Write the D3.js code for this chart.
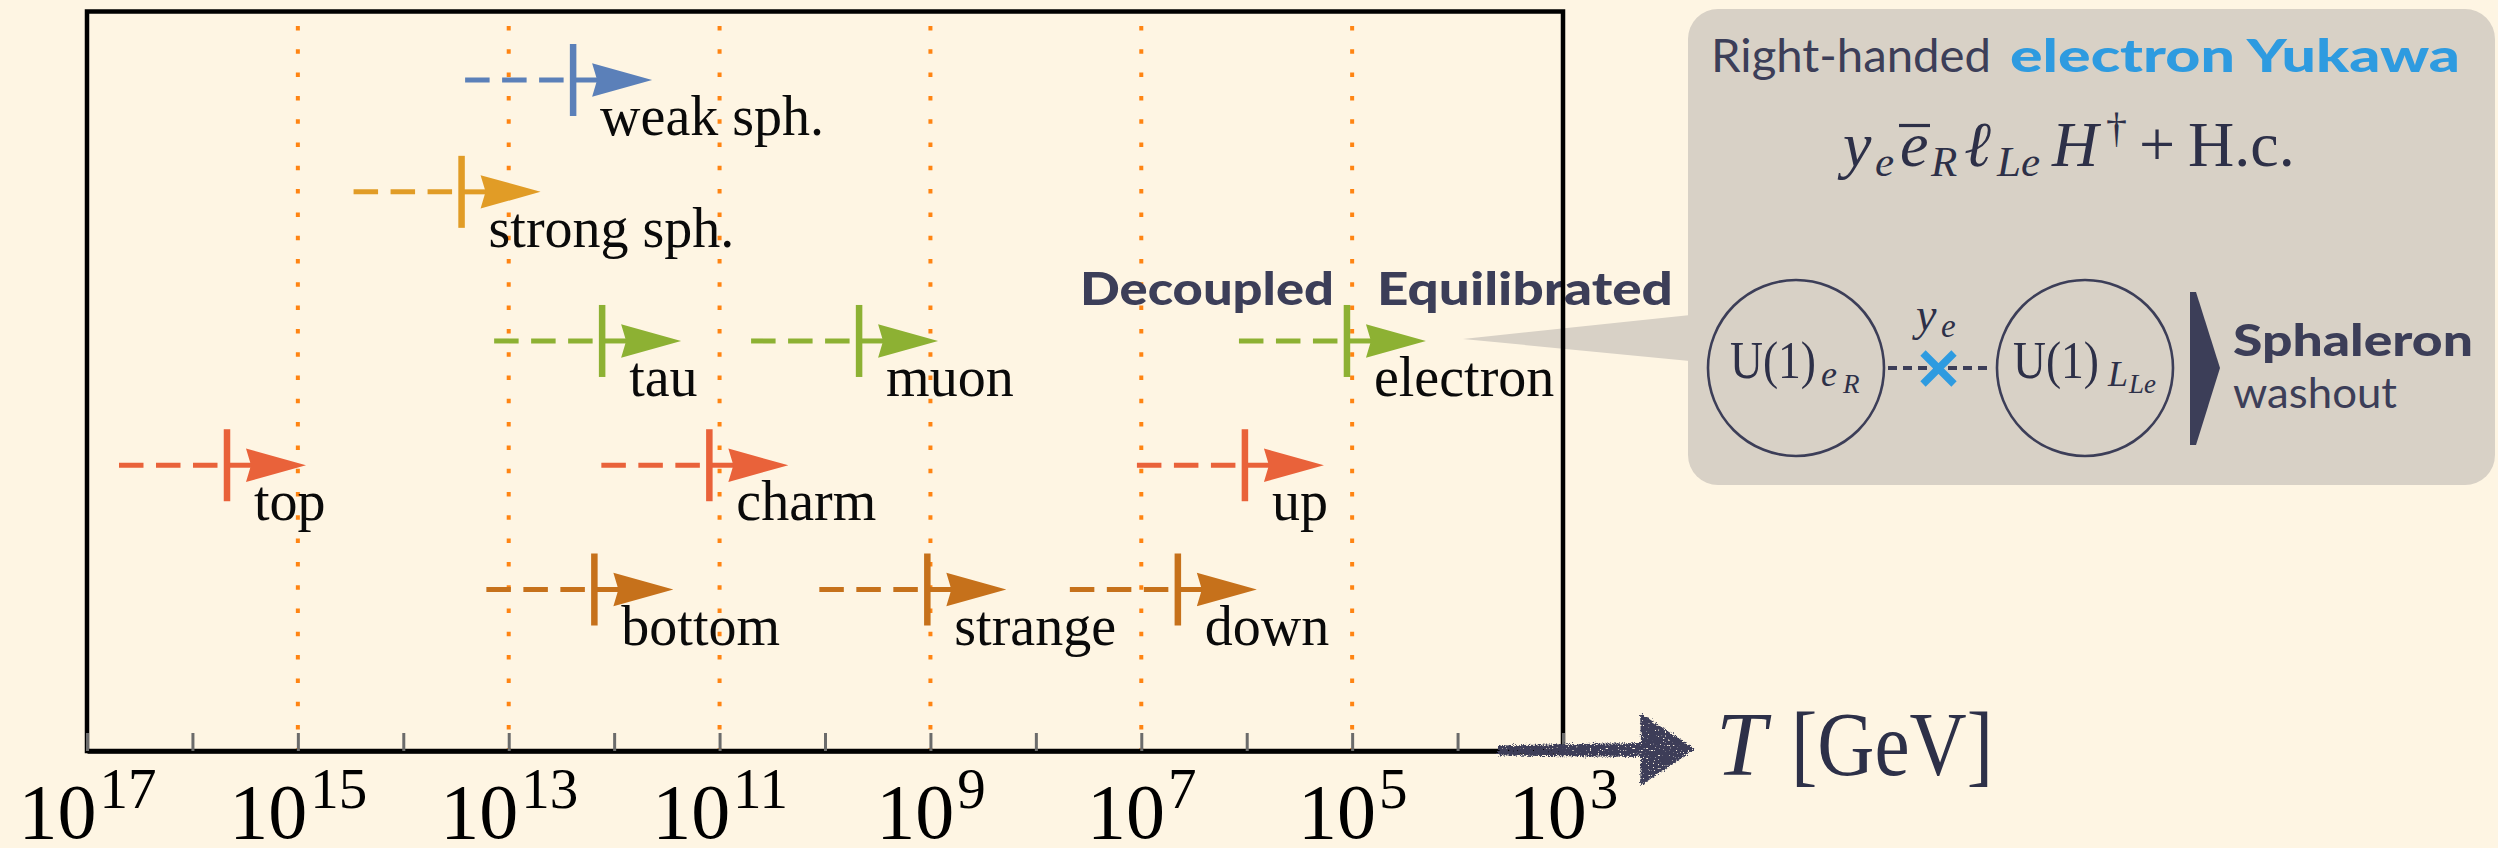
<!DOCTYPE html>
<html>
<head>
<meta charset="utf-8">
<script src="https://cdn.jsdelivr.net/npm/d3@7"></script>
<style>
  html, body { margin: 0; padding: 0; background: #fef5e3; }
  svg { display: block; }
</style>
</head>
<body>
<svg id="chart" width="2498" height="848"></svg>
<script>
// Temperature (GeV) at which each interaction comes into chemical equilibrium
const processes    = ["weak sph.", "strong sph.", "tau", "muon", "electron", "top", "charm", "up", "bottom", "strange", "down"];
const temperatures = [2.45e12, 2.8e13, 1.3e12, 4.75e9, 1.12e5, 4.7e15, 1.25e11, 1.04e6, 1.54e12, 1.07e9, 4.5e6];
const rowLevels    = [4.1, 3.2, 2, 2, 2, 1, 1, 1, 0, 0, 0];
const groups       = ["weak", "strong", "lepton", "lepton", "lepton", "upQuark", "upQuark", "upQuark", "downQuark", "downQuark", "downQuark"];

const groupNames  = ["weak", "strong", "lepton", "upQuark", "downQuark"];
const groupColors = ["#5b80b9", "#e19c26", "#8db133", "#e9623a", "#c6711b"];

// Axis decades
const tickExponents  = [17, 16, 15, 14, 13, 12, 11, 10, 9, 8, 7, 6, 5, 4, 3];
const labelExponents = [17, 15, 13, 11, 9, 7, 5, 3];
const guideExponents = [15, 13, 11, 9, 7, 5];

const NAVY = "#3c3e58";
const INK = "#2d3048";
const PANEL = "#d8d1c6";
const SANS = "Lato, 'Open Sans', sans-serif";
const serif = "'Liberation Serif', 'Times New Roman', serif";

const svg = d3.select("#chart");
const W = 2498, H = 848;
const plot = { left: 87, right: 1563, top: 11.5, bottom: 751 };

svg.append("rect").attr("width", W).attr("height", H).attr("fill", "#fef5e3");

const x = d3.scaleLog().domain([1e17, 1e3]).range([plot.left, plot.right]);
const y = d3.scaleLinear().domain([0, 4.1]).range([589.5, 80]);
const color = d3.scaleOrdinal().domain(groupNames).range(groupColors);

const rows = processes.map((name, i) => ({
  name, T: temperatures[i], level: rowLevels[i], group: groups[i]
}));

// Rough brush texture for the temperature arrow
const defs = svg.append("defs");
const rough = defs.append("filter").attr("id", "rough")
  .attr("x", "-10%").attr("y", "-40%").attr("width", "120%").attr("height", "180%");
rough.append("feTurbulence").attr("type", "fractalNoise").attr("baseFrequency", 0.9)
  .attr("numOctaves", 2).attr("seed", 3).attr("result", "noise");
rough.append("feDisplacementMap").attr("in", "SourceGraphic").attr("in2", "noise")
  .attr("scale", 6).attr("xChannelSelector", "R").attr("yChannelSelector", "G").attr("result", "disp");
rough.append("feTurbulence").attr("type", "fractalNoise").attr("baseFrequency", 0.6)
  .attr("numOctaves", 1).attr("seed", 11).attr("result", "n2");
rough.append("feColorMatrix").attr("in", "n2").attr("type", "matrix")
  .attr("values", "0 0 0 0 0  0 0 0 0 0  0 0 0 0 0  14 0 0 0 -3.8").attr("result", "mask");
rough.append("feComposite").attr("in", "disp").attr("in2", "mask").attr("operator", "in");

// Dotted guides at every second decade
svg.append("g").selectAll("line").data(guideExponents).join("line")
  .attr("x1", d => x(Math.pow(10, d))).attr("x2", d => x(Math.pow(10, d)))
  .attr("y1", 26).attr("y2", plot.bottom)
  .attr("stroke", "#ff8412").attr("stroke-width", 4)
  .attr("stroke-dasharray", "4.5,18.8");

// Equilibration arrows
const DASH_LEN = 108, HEAD_BACK = 19, HEAD_TIP = 79, HEAD_HALF = 16.7, BAR_HALF = 36;
const arrows = svg.append("g").selectAll("g").data(rows).join("g")
  .attr("transform", d => `translate(${x(d.T)},${y(d.level)})`);

arrows.append("line")
  .attr("x1", -DASH_LEN).attr("x2", 0).attr("y1", 0).attr("y2", 0)
  .attr("stroke", d => color(d.group)).attr("stroke-width", 5)
  .attr("stroke-dasharray", "24.5,12.5");
arrows.append("line")
  .attr("x1", 0).attr("x2", HEAD_BACK + 6).attr("y1", 0).attr("y2", 0)
  .attr("stroke", d => color(d.group)).attr("stroke-width", 5);
arrows.append("rect")
  .attr("x", -3.25).attr("y", -BAR_HALF).attr("width", 6.5).attr("height", 2 * BAR_HALF)
  .attr("fill", d => color(d.group));
arrows.append("path")
  .attr("d", `M${HEAD_BACK},${-HEAD_HALF} L${HEAD_TIP},0 L${HEAD_BACK},${HEAD_HALF} L${HEAD_BACK + 5},0 Z`)
  .attr("fill", d => color(d.group));
arrows.append("text")
  .attr("x", 27).attr("y", 55)
  .attr("font-family", serif)
  .attr("font-size", 56).attr("fill", "#0a0a0a")
  .text(d => d.name);

// Decoupled / Equilibrated markers around the electron threshold
const eX = x(rows.find(d => d.name === "electron").T);
svg.append("text").attr("x", eX - 13).attr("y", 305).attr("text-anchor", "end")
  .attr("font-family", SANS).attr("font-weight", 900)
  .attr("font-size", 45).attr("fill", NAVY)
  .attr("textLength", 254).attr("lengthAdjust", "spacingAndGlyphs")
  .text("Decoupled");
svg.append("text").attr("x", eX + 30).attr("y", 305)
  .attr("font-family", SANS).attr("font-weight", 900)
  .attr("font-size", 45).attr("fill", NAVY)
  .attr("textLength", 296).attr("lengthAdjust", "spacingAndGlyphs")
  .text("Equilibrated");

// Callout panel
const panel = svg.append("g");
panel.append("polygon")
  .attr("points", `${eX + 116},339 1700,314 1700,362`)
  .attr("fill", PANEL);
panel.append("rect").attr("x", 1688).attr("y", 9).attr("width", 807).attr("height", 476)
  .attr("rx", 30).attr("fill", PANEL);

const title = panel.append("g").attr("font-family", SANS).attr("font-size", 46);
title.append("text").attr("x", 1711).attr("y", 72).attr("fill", NAVY)
  .attr("textLength", 280).attr("lengthAdjust", "spacingAndGlyphs").text("Right-handed");
title.append("text").attr("x", 2010).attr("y", 72).attr("fill", "#2e9be0").attr("font-weight", 900)
  .attr("textLength", 450).attr("lengthAdjust", "spacingAndGlyphs").text("electron Yukawa");

// Operator y_e ē_R ℓ_Le H† + H.c.
const formula = [
  { t: "y",    x: 1843, y: 166, s: 64, it: true },
  { t: "e",    x: 1875, y: 176, s: 43, it: true },
  { t: "e",    x: 1900, y: 166, s: 64, it: true },
  { t: "R",    x: 1931, y: 176, s: 43, it: true },
  { t: "\u2113", x: 1964, y: 166, s: 64, it: true },
  { t: "Le",   x: 1997, y: 176, s: 43, it: true },
  { t: "H",    x: 2052, y: 166, s: 64, it: true },
  { t: "\u2020", x: 2106, y: 142, s: 42, it: false },
  { t: "+",    x: 2139, y: 166, s: 64, it: false },
  { t: "H.c.", x: 2188, y: 166, s: 64, it: false }
];
panel.append("g").selectAll("text").data(formula).join("text")
  .attr("x", d => d.x).attr("y", d => d.y)
  .attr("font-family", serif).attr("font-size", d => d.s)
  .attr("font-style", d => d.it ? "italic" : "normal")
  .attr("fill", INK).text(d => d.t);
panel.append("line").attr("x1", 1899).attr("x2", 1930).attr("y1", 125.5).attr("y2", 125.5)
  .attr("stroke", INK).attr("stroke-width", 3.2);

// U(1) charges linked by the Yukawa
const charges = [
  { cx: 1796, textX: 1730, sub: "e", subsub: "R", subX: 1821, subsubX: 1843 },
  { cx: 2085, textX: 2013, sub: "L", subsub: "Le", subX: 2108, subsubX: 2129 }
];
const ch = panel.append("g").selectAll("g").data(charges).join("g");
ch.append("circle").attr("cx", d => d.cx).attr("cy", 368).attr("r", 88)
  .attr("fill", "none").attr("stroke", NAVY).attr("stroke-width", 2.6);
ch.append("text").attr("x", d => d.textX).attr("y", 378)
  .attr("font-family", serif).attr("font-size", 52).attr("fill", INK)
  .attr("textLength", 86).attr("lengthAdjust", "spacingAndGlyphs").text("U(1)");
ch.append("text").attr("x", d => d.subX).attr("y", 386)
  .attr("font-family", serif).attr("font-style", "italic").attr("font-size", 36)
  .attr("fill", INK).text(d => d.sub);
ch.append("text").attr("x", d => d.subsubX).attr("y", 393)
  .attr("font-family", serif).attr("font-style", "italic").attr("font-size", 27)
  .attr("fill", INK).text(d => d.subsub);

panel.append("line").attr("x1", 1888).attr("x2", 1990).attr("y1", 368).attr("y2", 368)
  .attr("stroke", NAVY).attr("stroke-width", 4.2).attr("stroke-dasharray", "9,6");
panel.append("path")
  .attr("d", "M1923,353 L1954,384 M1923,384 L1954,353")
  .attr("stroke", "#2e9be0").attr("stroke-width", 7.5).attr("fill", "none");
panel.append("text").attr("x", 1916).attr("y", 330)
  .attr("font-family", serif).attr("font-style", "italic").attr("font-size", 46)
  .attr("fill", INK).text("y");
panel.append("text").attr("x", 1941).attr("y", 337)
  .attr("font-family", serif).attr("font-style", "italic").attr("font-size", 33)
  .attr("fill", INK).text("e");

panel.append("polygon")
  .attr("points", "2190,292 2196,292 2220,368 2196,445 2190,445")
  .attr("fill", NAVY);
panel.append("text").attr("x", 2233).attr("y", 356)
  .attr("font-family", SANS).attr("font-weight", 900)
  .attr("font-size", 44).attr("fill", NAVY)
  .attr("textLength", 240).attr("lengthAdjust", "spacingAndGlyphs").text("Sphaleron");
panel.append("text").attr("x", 2233).attr("y", 408)
  .attr("font-family", SANS)
  .attr("font-size", 43).attr("fill", NAVY)
  .attr("textLength", 164).attr("lengthAdjust", "spacingAndGlyphs").text("washout");

// Plot frame
svg.append("rect")
  .attr("x", plot.left).attr("y", plot.top)
  .attr("width", plot.right - plot.left).attr("height", plot.bottom - plot.top)
  .attr("fill", "none").attr("stroke", "#000").attr("stroke-width", 4.5);

// Temperature axis
const axis = d3.axisBottom(x)
  .tickValues(tickExponents.map(e => Math.pow(10, e)))
  .tickSize(-18).tickSizeOuter(0).tickFormat("");
const gAxis = svg.append("g").attr("transform", `translate(0,${plot.bottom})`).call(axis);
gAxis.select(".domain").attr("stroke", "#000").attr("stroke-width", 4.5);
gAxis.selectAll(".tick line").attr("stroke", "#6b6b6b").attr("stroke-width", 3);

const labelAxis = d3.axisBottom(x)
  .tickValues(labelExponents.map(e => Math.pow(10, e)))
  .tickSize(0).tickFormat("");
const gLab = svg.append("g").attr("transform", `translate(0,${plot.bottom})`).call(labelAxis);
gLab.select(".domain").remove();
gLab.selectAll(".tick text").each(function (d) {
  const t = d3.select(this).attr("y", 87).attr("dy", null)
    .attr("font-family", serif).attr("fill", "#000").attr("text-anchor", "middle");
  t.append("tspan").attr("font-size", 78).text("10");
  t.append("tspan").attr("font-size", 57).attr("dy", -30).attr("dx", 3)
    .text(Math.round(Math.log10(d)));
});

// Brushed arrow and axis title
svg.append("path")
  .attr("d", "M1498,745.5 L1641,743 L1640,713 L1695,749 L1640,786 L1641,757 L1498,755.5 Z")
  .attr("fill", NAVY).attr("filter", "url(#rough)");
svg.append("text").attr("x", 1716).attr("y", 775)
  .attr("font-family", serif).attr("font-style", "italic").attr("font-size", 90)
  .attr("fill", INK).text("T");
svg.append("text").attr("x", 1791).attr("y", 775)
  .attr("font-family", serif).attr("font-size", 90).attr("fill", INK)
  .attr("textLength", 202).attr("lengthAdjust", "spacingAndGlyphs").text("[GeV]");
</script>
</body>
</html>
